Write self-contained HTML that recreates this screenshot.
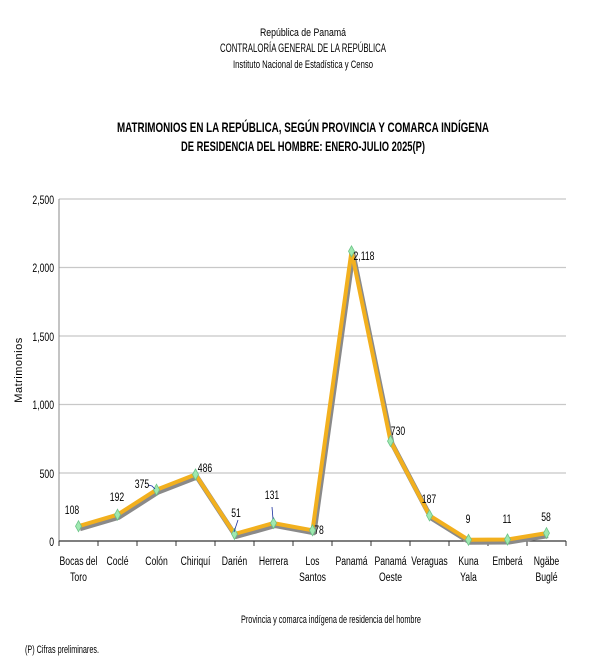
<!DOCTYPE html>
<html><head><meta charset="utf-8"><style>
html,body{margin:0;padding:0;background:#fff;width:606px;height:672px;overflow:hidden}
svg text{font-family:"Liberation Sans",sans-serif;fill:#000}
</style></head><body>
<svg width="606" height="672" viewBox="0 0 606 672" xmlns="http://www.w3.org/2000/svg">
<text x="303" y="36" font-size="11" text-anchor="middle" textLength="86" lengthAdjust="spacingAndGlyphs">República de Panamá</text>
<text x="303" y="52" font-size="12" text-anchor="middle" textLength="166" lengthAdjust="spacingAndGlyphs">CONTRALORÍA GENERAL DE LA REPÚBLICA</text>
<text x="303" y="68" font-size="11" text-anchor="middle" textLength="140" lengthAdjust="spacingAndGlyphs">Instituto Nacional de Estadística y Censo</text>
<text x="303" y="132" font-size="14" font-weight="bold" text-anchor="middle" textLength="372" lengthAdjust="spacingAndGlyphs">MATRIMONIOS  EN LA REPÚBLICA, SEGÚN PROVINCIA Y COMARCA INDÍGENA</text>
<text x="303" y="151" font-size="14" font-weight="bold" text-anchor="middle" textLength="244" lengthAdjust="spacingAndGlyphs">DE RESIDENCIA DEL HOMBRE: ENERO-JULIO  2025(P)</text>
<g stroke="#c8c8c8" stroke-width="1.2">
<line x1="59" y1="199" x2="566" y2="199"/><line x1="59" y1="267.5" x2="566" y2="267.5"/>
<line x1="59" y1="336" x2="566" y2="336"/><line x1="59" y1="404.5" x2="566" y2="404.5"/>
<line x1="59" y1="473" x2="566" y2="473"/>
</g>
<line x1="59" y1="199" x2="59" y2="541" stroke="#888" stroke-width="1"/>
<line x1="59" y1="541" x2="566" y2="541" stroke="#333" stroke-width="1.2"/>
<g stroke="#333" stroke-width="1">
<line x1="59" y1="541" x2="59" y2="546"/><line x1="98" y1="541" x2="98" y2="546"/><line x1="137" y1="541" x2="137" y2="546"/><line x1="176" y1="541" x2="176" y2="546"/><line x1="215" y1="541" x2="215" y2="546"/><line x1="254" y1="541" x2="254" y2="546"/><line x1="293" y1="541" x2="293" y2="546"/><line x1="332" y1="541" x2="332" y2="546"/><line x1="371" y1="541" x2="371" y2="546"/><line x1="410" y1="541" x2="410" y2="546"/><line x1="449" y1="541" x2="449" y2="546"/><line x1="488" y1="541" x2="488" y2="546"/><line x1="527" y1="541" x2="527" y2="546"/><line x1="566" y1="541" x2="566" y2="546"/>
</g>
<g font-size="12" text-anchor="end">
<text transform="translate(54,204) scale(0.72,1)">2,500</text><text transform="translate(54,272) scale(0.72,1)">2,000</text><text transform="translate(54,341) scale(0.72,1)">1,500</text>
<text transform="translate(54,409) scale(0.72,1)">1,000</text><text transform="translate(54,478) scale(0.72,1)">500</text><text transform="translate(54,546) scale(0.72,1)">0</text>
</g>
<text transform="translate(22,370) rotate(-90)" font-size="11" text-anchor="middle" letter-spacing="0.5">Matrimonios</text>
<polyline fill="none" stroke="#8a8a8a" stroke-width="5" stroke-linejoin="round" transform="translate(1.5,2.5)" points="78.5,526.2 117.5,514.7 156.5,489.7 195.5,474.5 234.5,534 273.5,523.1 312.5,530.3 351.5,251.3 390.5,441.1 429.5,515.4 468.5,539.8 507.5,539.5 546.5,533.1"/>
<polyline fill="none" stroke="#f2b01e" stroke-width="4" stroke-linejoin="round" points="78.5,526.2 117.5,514.7 156.5,489.7 195.5,474.5 234.5,534 273.5,523.1 312.5,530.3 351.5,251.3 390.5,441.1 429.5,515.4 468.5,539.8 507.5,539.5 546.5,533.1"/>
<g fill="#9fe8b0" stroke="#6cc488" stroke-width="0.8">
<path d="M78.5 520.7l3 5.5-3 5.5-3-5.5z"/><path d="M117.5 509.2l3 5.5-3 5.5-3-5.5z"/><path d="M156.5 484.2l3 5.5-3 5.5-3-5.5z"/><path d="M195.5 469l3 5.5-3 5.5-3-5.5z"/><path d="M234.5 528.5l3 5.5-3 5.5-3-5.5z"/><path d="M273.5 517.6l3 5.5-3 5.5-3-5.5z"/><path d="M312.5 524.8l3 5.5-3 5.5-3-5.5z"/><path d="M351.5 245.8l3 5.5-3 5.5-3-5.5z"/><path d="M390.5 435.6l3 5.5-3 5.5-3-5.5z"/><path d="M429.5 509.9l3 5.5-3 5.5-3-5.5z"/><path d="M468.5 534.3l3 5.5-3 5.5-3-5.5z"/><path d="M507.5 534l3 5.5-3 5.5-3-5.5z"/><path d="M546.5 527.6l3 5.5-3 5.5-3-5.5z"/>
</g>
<g stroke="#1a2fa0" stroke-width="0.8" fill="none">
<path d="M148 485 l4 1 l3 3"/><path d="M238 520 l-4 12"/><path d="M272 507 l1 12"/>
</g>
<g font-size="12" text-anchor="middle">
<text transform="translate(72,514) scale(0.72,1)">108</text><text transform="translate(117,501) scale(0.72,1)">192</text><text transform="translate(142,488) scale(0.72,1)">375</text>
<text transform="translate(205,472) scale(0.72,1)">486</text><text transform="translate(236,517) scale(0.72,1)">51</text><text transform="translate(272,499) scale(0.72,1)">131</text>
<text transform="translate(319,534) scale(0.72,1)">78</text><text transform="translate(364,260) scale(0.72,1)">2,118</text><text transform="translate(398,435) scale(0.72,1)">730</text>
<text transform="translate(429,503) scale(0.72,1)">187</text><text transform="translate(468,523) scale(0.72,1)">9</text><text transform="translate(507,523) scale(0.72,1)">11</text><text transform="translate(546,521) scale(0.72,1)">58</text>
</g>
<g font-size="12" text-anchor="middle">
<text transform="translate(78.5,565) scale(0.72,1)">Bocas del</text><text transform="translate(78.5,581) scale(0.72,1)">Toro</text>
<text transform="translate(117.5,565) scale(0.72,1)">Coclé</text><text transform="translate(156.5,565) scale(0.72,1)">Colón</text><text transform="translate(195.5,565) scale(0.72,1)">Chiriquí</text>
<text transform="translate(234.5,565) scale(0.72,1)">Darién</text><text transform="translate(273.5,565) scale(0.72,1)">Herrera</text>
<text transform="translate(312.5,565) scale(0.72,1)">Los</text><text transform="translate(312.5,581) scale(0.72,1)">Santos</text>
<text transform="translate(351.5,565) scale(0.72,1)">Panamá</text>
<text transform="translate(390.5,565) scale(0.72,1)">Panamá</text><text transform="translate(390.5,581) scale(0.72,1)">Oeste</text>
<text transform="translate(429.5,565) scale(0.72,1)">Veraguas</text>
<text transform="translate(468.5,565) scale(0.72,1)">Kuna</text><text transform="translate(468.5,581) scale(0.72,1)">Yala</text>
<text transform="translate(507.5,565) scale(0.72,1)">Emberá</text>
<text transform="translate(546.5,565) scale(0.72,1)">Ngäbe</text><text transform="translate(546.5,581) scale(0.72,1)">Buglé</text>
</g>
<text x="331" y="623" font-size="11" text-anchor="middle" textLength="180" lengthAdjust="spacingAndGlyphs">Provincia  y comarca indígena  de residencia  del hombre</text>
<text x="25" y="653" font-size="11" textLength="74" lengthAdjust="spacingAndGlyphs">(P) Cifras  preliminares.</text>
</svg>
</body></html>
